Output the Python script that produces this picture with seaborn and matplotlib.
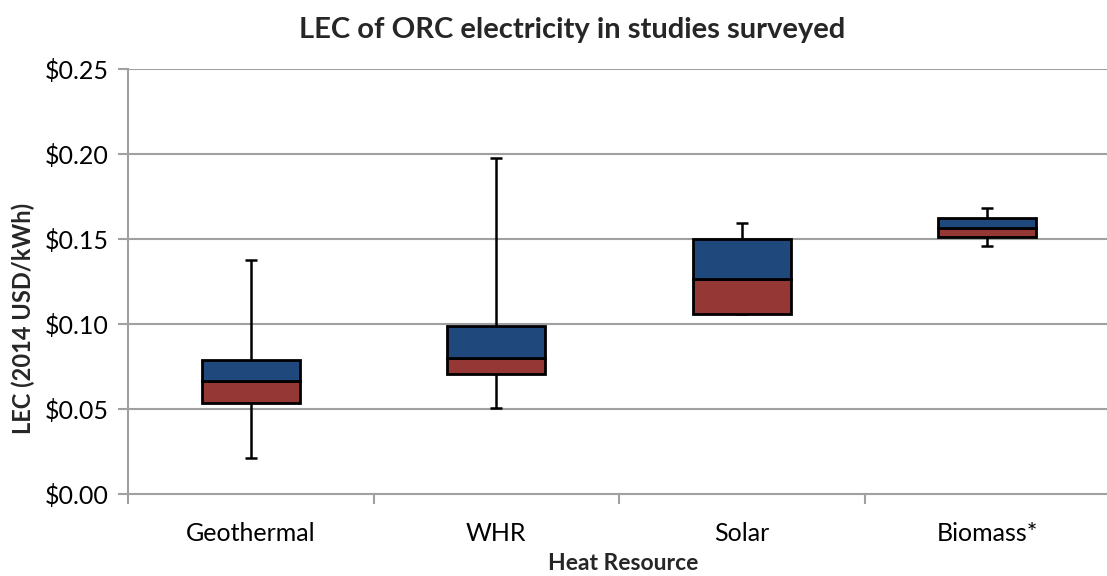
import matplotlib
matplotlib.use("Agg")
import matplotlib.pyplot as plt
import seaborn as sns
import pandas as pd
import numpy as np
from matplotlib.ticker import FuncFormatter

categories = ["Geothermal", "WHR", "Solar", "Biomass*"]
v_min = [0.0212, 0.0507, 0.1061, 0.1456]
q1 = [0.0537, 0.0708, 0.1061, 0.1509]
median = [0.0666, 0.0802, 0.1262, 0.1563]
q3 = [0.0790, 0.0991, 0.1498, 0.1621]
v_max = [0.1374, 0.1975, 0.1592, 0.1680]

df = pd.DataFrame({
    "resource": categories,
    "vmin": v_min, "q1": q1, "median": median, "q3": q3, "vmax": v_max,
})
df["lower"] = df["median"] - df["q1"]
df["upper"] = df["q3"] - df["median"]

sns.set_theme(style="white")
plt.rcParams["font.family"] = ["Lato", "DejaVu Sans"]

fig = plt.figure(figsize=(11.07, 5.76), dpi=100)
ax = fig.add_axes([128 / 1107, 82 / 576, 982 / 1107, 425 / 576])

grid_c = "#A0A0A0"
for y in [0.05, 0.10, 0.15, 0.20, 0.25]:
    ax.axhline(y, color=grid_c, lw=1.5, zorder=0)

red = "#953735"
blue = "#1F497D"
sns.barplot(data=df, x="resource", y="lower", bottom=df["q1"].values,
            color=red, edgecolor="black", linewidth=2.0, width=0.4,
            errorbar=None, saturation=1, ax=ax, zorder=3)
sns.barplot(data=df, x="resource", y="upper", bottom=df["median"].values,
            color=blue, edgecolor="black", linewidth=2.0, width=0.4,
            errorbar=None, saturation=1, ax=ax, zorder=3)

pos = np.arange(len(categories))
ax.vlines(pos, df["vmin"], df["q1"], color="black", lw=1.8, zorder=2)
ax.vlines(pos, df["q3"], df["vmax"], color="black", lw=1.8, zorder=2)
cap = 0.025
ax.hlines(df["vmin"], pos - cap, pos + cap, color="black", lw=1.8, zorder=2)
ax.hlines(df["vmax"], pos - cap, pos + cap, color="black", lw=1.8, zorder=2)

ax.set_xlim(-0.5, len(categories) - 0.5)
ax.set_ylim(0, 0.25)
ax.set_yticks([0, 0.05, 0.10, 0.15, 0.20, 0.25])
ax.yaxis.set_major_formatter(FuncFormatter(lambda v, p: f"${v:.2f}"))

for s in ["top", "right"]:
    ax.spines[s].set_visible(False)
for s in ["left", "bottom"]:
    ax.spines[s].set_color(grid_c)
    ax.spines[s].set_linewidth(1.5)

ax.tick_params(axis="y", which="major", left=True, length=7, width=1.5,
               color=grid_c, labelsize=18, pad=7, labelcolor="black")
ax.set_xticks(pos)
ax.tick_params(axis="x", which="major", bottom=False, labelsize=18, pad=14,
               labelcolor="black")
ax.set_xticks(np.arange(-0.5, len(categories) - 0.4, 1.0), minor=True)
ax.tick_params(axis="x", which="minor", bottom=True, length=7, width=1.5,
               color=grid_c)

ax.set_xlabel("Heat Resource", fontsize=16.5, fontweight="bold", va="center")
ax.xaxis.set_label_coords((623 - 128) / 982, (494 - 564) / 425)
ax.set_ylabel("LEC (2014 USD/kWh)", fontsize=17, fontweight="bold", va="center")
ax.yaxis.set_label_coords((23 - 128) / 982, (494 - 318) / 425)
fig.text(572 / 1107, 1 - 30 / 576, "LEC of ORC electricity in studies surveyed",
         ha="center", va="center", fontsize=21, fontweight="bold")

fig.savefig("out.png", dpi=100)
